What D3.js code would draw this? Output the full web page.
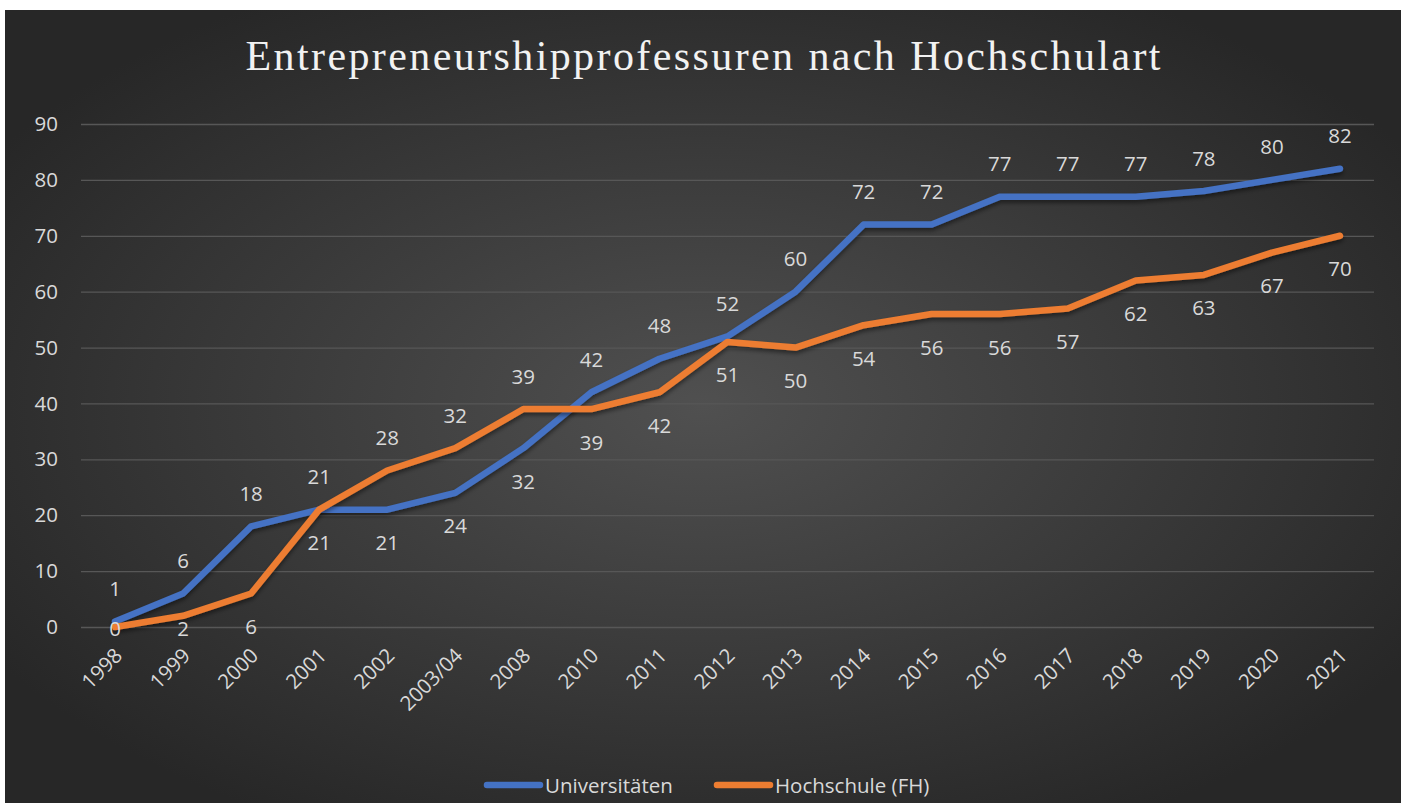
<!DOCTYPE html>
<html>
<head>
<meta charset="utf-8">
<script src="https://cdn.jsdelivr.net/npm/d3@7"></script>
<style>
  body { margin: 0; background: #fff; }
  svg { display: block; }
</style>
</head>
<body>
<svg width="1405" height="803"></svg>
<script>
var years = ['1998', '1999', '2000', '2001', '2002', '2003/04', '2008', '2010', '2011', '2012',
             '2013', '2014', '2015', '2016', '2017', '2018', '2019', '2020', '2021'];
var universitaeten = [1, 6, 18, 21, 21, 24, 32, 42, 48, 52, 60, 72, 72, 77, 77, 77, 78, 80, 82];
var hochschule = [0, 2, 6, 21, 28, 32, 39, 39, 42, 51, 50, 54, 56, 56, 57, 62, 63, 67, 70];
var yTicks = [0, 10, 20, 30, 40, 50, 60, 70, 80, 90];
var seriesNames = ['Universitäten', 'Hochschule (FH)'];
var colors = ['#4472C4', '#ED7D31'];

var svg = d3.select('svg');
var defs = svg.append('defs');

var grad = defs.append('radialGradient')
  .attr('id', 'bg')
  .attr('cx', '50%').attr('cy', '50%').attr('r', '60%');
grad.append('stop').attr('offset', '0%').attr('stop-color', '#505050');
grad.append('stop').attr('offset', '100%').attr('stop-color', '#272727');

var shadow = defs.append('filter').attr('id', 'shadow')
  .attr('x', '-5%').attr('y', '-5%').attr('width', '110%').attr('height', '120%');
shadow.append('feDropShadow')
  .attr('dx', 0).attr('dy', 3).attr('stdDeviation', 2)
  .attr('flood-color', '#000').attr('flood-opacity', 0.45);

svg.append('rect')
  .attr('x', 5).attr('y', 10)
  .attr('width', 1396).attr('height', 793)
  .style('fill', 'url(#bg)');

svg.append('text')
  .attr('x', 703).attr('y', 70)
  .attr('text-anchor', 'middle')
  .attr('textLength', 915)
  .style('font-family', '"Liberation Serif", serif')
  .style('font-size', '42px')
  .style('fill', '#f2f2f2')
  .text('Entrepreneurshipprofessuren nach Hochschulart');

var font = '"Open Sans", sans-serif';
var labelSize = '20.5px';

var xScale = d3.scalePoint()
               .domain(years)
               .range([81, 1374])
               .padding(0.5);

var yScale = d3.scaleLinear()
               .domain([0, 90])
               .range([627, 124]);

var yAxis = d3.axisLeft(yScale)
              .tickValues(yTicks)
              .tickSize(-1293)
              .tickPadding(23);
var yg = svg.append('g')
  .attr('id', 'yAxis')
  .attr('transform', 'translate(81,0)')
  .call(yAxis);
yg.select('.domain').remove();
yg.selectAll('line').style('stroke', '#575757').style('stroke-width', 1.3);
yg.selectAll('text')
  .style('font-family', font)
  .style('font-size', labelSize)
  .style('fill', '#d9d9d9');

var xAxis = d3.axisBottom(xScale).tickSize(0).tickPadding(0);
var xg = svg.append('g')
  .attr('id', 'xAxis')
  .attr('transform', 'translate(0,627)')
  .call(xAxis);
xg.select('.domain').remove();
xg.selectAll('text')
  .attr('text-anchor', 'end')
  .attr('dy', null)
  .attr('y', 0)
  .attr('transform', 'translate(8,30) rotate(-45)')
  .style('font-family', font)
  .style('font-size', labelSize)
  .style('fill', '#d9d9d9');

var series = [universitaeten, hochschule];

var line = d3.line()
  .x(function(d, i) { return xScale(years[i]); })
  .y(function(d) { return yScale(d); });

svg.selectAll('path.series')
  .data(series)
  .enter()
  .append('path')
  .attr('class', 'series')
  .attr('d', line)
  .attr('filter', 'url(#shadow)')
  .style('fill', 'none')
  .style('stroke', function(d, i) { return colors[i]; })
  .style('stroke-width', 6.5)
  .style('stroke-linejoin', 'round')
  .style('stroke-linecap', 'round');

// data labels: higher value above the line, lower value below
series.forEach(function(values, s) {
  var other = series[1 - s];
  svg.selectAll('text.lbl' + s)
    .data(values)
    .enter()
    .append('text')
    .attr('class', 'lbl' + s)
    .attr('text-anchor', 'middle')
    .attr('x', function(d, i) { return xScale(years[i]); })
    .attr('y', function(d, i) {
      var above = d > other[i] || (d === other[i] && s === 1);
      var y = yScale(d) + (above ? -33 : 33);
      return Math.min(y, 628) + 7.5;
    })
    .style('font-family', font)
    .style('font-size', labelSize)
    .style('fill', '#d9d9d9')
    .text(function(d) { return d; });
});

var legend = svg.selectAll('g.legend')
  .data(seriesNames)
  .enter()
  .append('g')
  .attr('class', 'legend')
  .attr('transform', function(d, i) { return 'translate(' + (487 + i * 230) + ',785)'; });
legend.append('line')
  .attr('x1', 0).attr('x2', 53)
  .style('stroke', function(d, i) { return colors[i]; })
  .style('stroke-width', 6.5)
  .style('stroke-linecap', 'round');
legend.append('text')
  .attr('x', 58).attr('y', 7.5)
  .style('font-family', font)
  .style('font-size', labelSize)
  .style('fill', '#d9d9d9')
  .text(function(d) { return d; });
</script>
</body>
</html>
